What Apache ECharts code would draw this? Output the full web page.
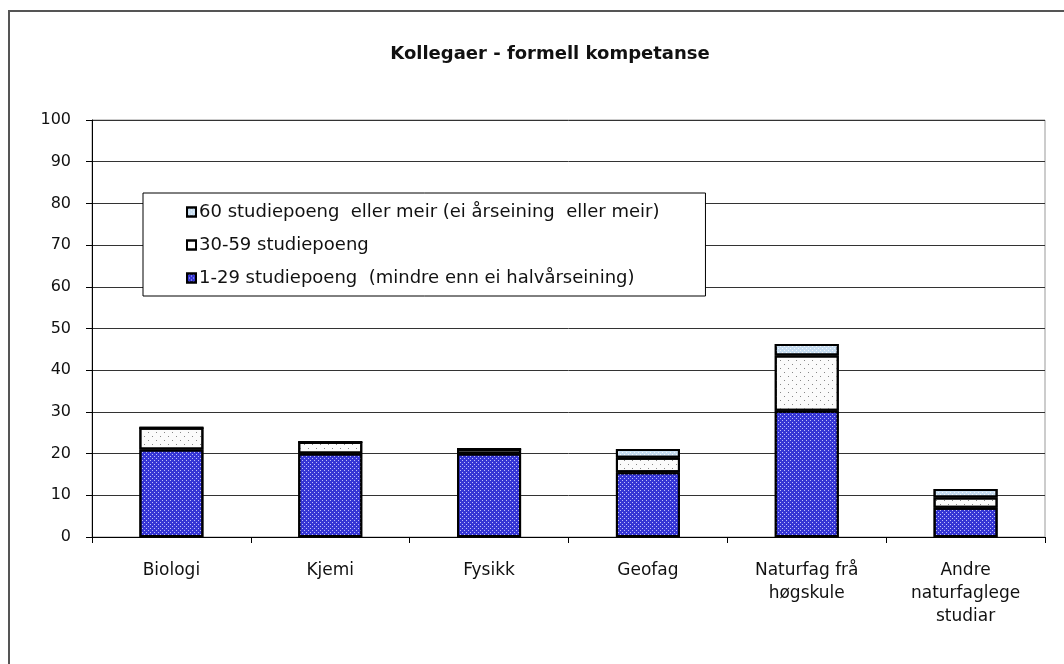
<!DOCTYPE html>
<html>
<head>
<meta charset="utf-8">
<script src="https://cdn.jsdelivr.net/npm/echarts@6/dist/echarts.min.js"></script>
<style>
  html, body { margin: 0; padding: 0; background: #fff; }
  #chart { width: 1064px; height: 664px; }
</style>
</head>
<body>
<div id="chart"></div>
<script>
const categories = [
  "Biologi",
  "Kjemi",
  "Fysikk",
  "Geofag",
  "Naturfag frå\nhøgskule",
  "Andre\nnaturfaglege\nstudiar"
];
const low = [21, 20, 20, 15.5, 30.3, 7];        // 1-29 studiepoeng
const mid = [5.2, 2.8, 1.1, 3.5, 13.2, 2.5];     // 30-59 studiepoeng
const high = [0, 0, 0, 2.1, 2.8, 2];             // 60 studiepoeng eller meir
const yTicks = [0, 10, 20, 30, 40, 50, 60, 70, 80, 90, 100];

const font = "'DejaVu Sans', Verdana, sans-serif";

const chart = echarts.init(document.getElementById("chart"));

const barBorder = { borderColor: "#000", borderWidth: 2 };

const option = {
  backgroundColor: "#fff",
  animation: false,
  title: {
    text: "Kollegaer - formell kompetanse",
    left: 545,
    textAlign: "center",
    top: 40,
    textStyle: { fontFamily: font, fontSize: 18, fontWeight: "bold", color: "#111" }
  },
  legend: {
    orient: "vertical",
    left: 143,
    top: 193,
    padding: [10, 46, 9, 43],
    itemGap: 15,
    itemWidth: 9,
    itemHeight: 9,
    backgroundColor: "#fff",
    borderColor: "#000",
    borderWidth: 1,
    borderRadius: 0,
    icon: "rect",
    textStyle: { fontFamily: font, fontSize: 18, color: "#111", padding: [0, 0, 0, -2] },
    data: [
      "60 studiepoeng  eller meir (ei årseining  eller meir)",
      "30-59 studiepoeng",
      "1-29 studiepoeng  (mindre enn ei halvårseining)"
    ]
  },
  grid: {
    left: 92,
    right: 19,
    top: 120,
    bottom: 127,
    show: true,
    borderColor: "#999",
    borderWidth: 1
  },
  xAxis: {
    type: "category",
    data: categories,
    axisLine: { lineStyle: { color: "#000", width: 1 } },
    axisTick: { show: true, length: 6, lineStyle: { color: "#000" } },
    axisLabel: {
      fontFamily: font,
      fontSize: 17,
      color: "#111",
      margin: 22,
      lineHeight: 23,
      interval: 0
    }
  },
  yAxis: {
    type: "value",
    min: yTicks[0],
    max: yTicks[yTicks.length - 1],
    interval: 10,
    axisLine: { show: true, lineStyle: { color: "#000", width: 1 } },
    axisTick: { show: true, length: 6, lineStyle: { color: "#000" } },
    axisLabel: { fontFamily: font, fontSize: 16, color: "#111", margin: 21 },
    splitLine: { lineStyle: { color: "#333", width: 1 } }
  },
  series: [
    {
      name: "1-29 studiepoeng  (mindre enn ei halvårseining)",
      type: "bar",
      stack: "total",
      barWidth: 64,
      data: low,
      itemStyle: Object.assign({
        color: "#3636d4",
        decal: {
          symbol: "rect",
          symbolSize: 1,
          color: "rgba(215,215,255,0.85)",
          dashArrayX: [[1, 3], [0, 2, 1, 1]],
          dashArrayY: [1, 1]
        }
      }, barBorder)
    },
    {
      name: "30-59 studiepoeng",
      type: "bar",
      stack: "total",
      data: mid,
      itemStyle: Object.assign({
        color: "#fbfbfb",
        decal: {
          symbol: "rect",
          symbolSize: 1,
          color: "#888",
          dashArrayX: [[1, 7], [0, 4, 1, 3]],
          dashArrayY: [1, 3]
        }
      }, barBorder)
    },
    {
      name: "60 studiepoeng  eller meir (ei årseining  eller meir)",
      type: "bar",
      stack: "total",
      data: high,
      itemStyle: Object.assign({
        color: "#c6dcf0",
        decal: {
          symbol: "rect",
          symbolSize: 1,
          color: "rgba(255,255,255,0.8)",
          dashArrayX: [[1, 3], [0, 2, 1, 1]],
          dashArrayY: [1, 1]
        }
      }, barBorder)
    }
  ],
  graphic: [
    {
      type: "rect",
      shape: { x: 9, y: 11, width: 1200, height: 800 },
      style: { fill: null, stroke: "#555", lineWidth: 2 },
      silent: true
    }
  ]
};

chart.setOption(option);
</script>
</body>
</html>
